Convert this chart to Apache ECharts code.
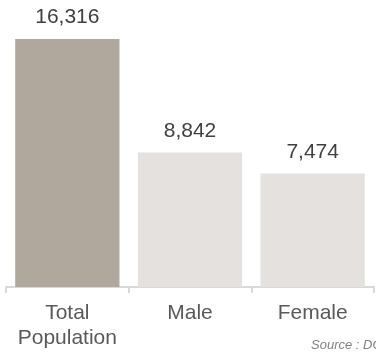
<!DOCTYPE html>
<html>
<head>
<meta charset="utf-8">
<script src="https://cdn.jsdelivr.net/npm/echarts@6/dist/echarts.min.js"></script>
<style>html,body{margin:0;padding:0;background:#fff;}#c{width:376px;height:353px;}</style>
</head>
<body>
<div id="c"></div>
<script>
const categories = ['Total\nPopulation', 'Male', 'Female'];
const values = [16316, 8842, 7474];
const barColors = ['#b0a89d', '#e4e1de', '#e4e1de'];
const sourceText = 'Source : DOSM';

const chart = echarts.init(document.getElementById('c'), null, {renderer: 'canvas'});
chart.setOption({
  animation: false,
  textStyle: {fontFamily: 'Liberation Sans, Arial, sans-serif'},
  grid: {left: 6, right: 2, top: 39, bottom: 66},
  xAxis: {
    type: 'category',
    data: categories,
    axisLine: {lineStyle: {color: '#d9d9d9', width: 2}},
    axisTick: {show: true, length: 6, lineStyle: {color: '#d9d9d9', width: 2}},
    axisLabel: {interval: 0, color: '#595959', fontSize: 21, lineHeight: 25, margin: 14, fontFamily: 'Liberation Sans, Arial, sans-serif'}
  },
  yAxis: {type: 'value', min: 0, max: 16316, show: false, splitLine: {show: false}},
  series: [{
    type: 'bar',
    data: values.map((v, i) => ({value: v, itemStyle: {color: barColors[i]}})),
    barCategoryGap: '15%',
    label: {
      show: true, position: 'top', distance: 11,
      fontSize: 21, color: '#404040', fontFamily: 'Liberation Sans, Arial, sans-serif',
      formatter: p => p.value.toLocaleString('en-US')
    }
  }],
  graphic: [{
    type: 'text', left: 311, top: 339,
    style: {text: sourceText, fontSize: 13, fontStyle: 'italic', fill: '#808080', fontFamily: 'Liberation Sans, Arial, sans-serif'}
  }]
});
</script>
</body>
</html>
